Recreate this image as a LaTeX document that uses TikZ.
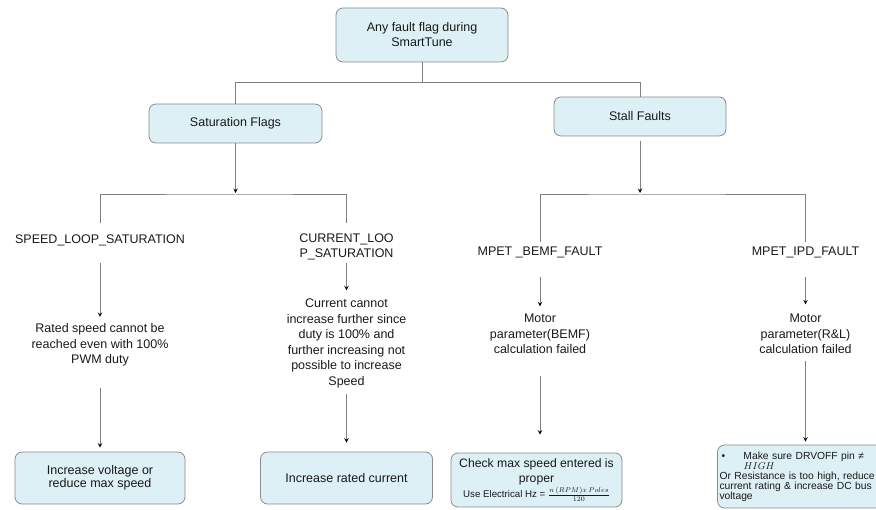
\documentclass[tikz,border=0pt]{standalone}
\usepackage{fontspec}
\setmainfont{Liberation Sans}
\usetikzlibrary{positioning}
\definecolor{boxfill}{HTML}{DCF0F5}
\definecolor{boxline}{HTML}{8C8C8C}
\definecolor{linkgray}{HTML}{808080}

\begin{document}
\begin{tikzpicture}[->,>=stealth, x=1pt, y=1pt, on grid,
  every node/.style={font=\fontsize{12.5}{15.5}\selectfont, text=black!90, inner sep=0pt},
  flagbox/.style={rectangle, rounded corners=7pt, draw=boxline, fill=boxfill, line width=0.8pt, minimum width=172pt, minimum height=39pt, align=center},
  flagtext/.style={align=center},
  link/.style={draw=linkgray, line width=1pt}]

  \useasboundingbox (0,0) rectangle (876,-510);

  \node[flagbox, minimum height=54pt, font=\fontsize{12.5}{15}\selectfont] (fault) at (422,-35) {Any fault flag during\\SmartTune};
  \node[flagbox, minimum width=173pt] (sat) [below left = 88.5pt and 186.5pt of fault] {Saturation Flags};
  \node[flagbox] (stall) [below right = 81.5pt and 218pt of fault] {Stall Faults};
  \coordinate[below = 71.5pt of sat] (satbar);
  \coordinate[below = 78.5pt of stall] (stallbar);

  \node[flagtext] (speed) [below left = 116.5pt and 135.5pt of sat] {SPEED\_LOOP\_SATURATION};
  \node[flagtext] (curloop) [below right = 123.5pt and 111pt of sat] {CURRENT\_LOO\\P\_SATURATION};
  \node[flagtext] (bemf) [below left = 135.5pt and 100pt of stall] {MPET \_BEMF\_FAULT};
  \node[flagtext] (ipd) [below right = 135.5pt and 165.5pt of stall] {MPET\_IPD\_FAULT};

  \node[flagtext] (rated) [below = 105pt of speed] {Rated speed cannot be\\reached even with 100\%\\PWM duty};
  \node[flagtext] (curdesc) [below = 96.5pt of curloop] {Current cannot\\increase further since\\duty is 100\% and\\further increasing not\\possible to increase\\Speed};
  \node[flagtext] (motorb) [below = 82pt of bemf] {Motor\\parameter(BEMF)\\calculation failed};
  \node[flagtext] (motorr) [below = 82pt of ipd] {Motor\\parameter(R\&L)\\calculation failed};

  \node[flagbox, minimum width=170pt, minimum height=52pt, font=\fontsize{12.5}{13.5}\selectfont] (volt) [below = 133pt of rated] {Increase voltage or\\reduce max speed};
  \node[flagbox, minimum height=52pt] (ratedcur) [below = 134.5pt of curdesc] {Increase rated current};
  \node[flagbox, minimum width=171pt, minimum height=54pt, font=\fontsize{12.2}{15}\selectfont] (check) [below left = 146pt and 3.5pt of motorb] {Check max speed entered is\\proper\\{\fontsize{9.7}{12}\selectfont Use Electrical Hz = $\frac{n\,(RPM)x\,Poles}{120}$}};
  \node[flagbox, minimum width=176pt, minimum height=63pt, text width=172pt, align=left, font=\fontsize{10.3}{10}\selectfont] (drvoff) [below = 142.5pt of motorr] {\hspace*{2pt}\makebox[22pt][l]{•}Make sure DRVOFF pin ≠\\\hspace*{24pt}$HIGH$\\Or Resistance is too high, reduce\\current rating \& increase DC bus\\voltage};

  % tree lines
  \draw[link, -] (fault.south) -- ++(0,-20) -| (sat.north);
  \draw[link, -] (fault.south) -- ++(0,-20) -| (stall.north);
  \draw[link, -] ([yshift=11pt]speed.north) |- (satbar) -| ([yshift=10.5pt]curloop.north);
  \draw[link, -] ([yshift=4pt]bemf.north) |- (stallbar) -| ([yshift=4pt]ipd.north);

  \path[link]
    (sat) edge[shorten >=2pt] (satbar)
    (stall) edge[shorten <=5pt, shorten >=2pt] (stallbar)
    (speed) edge[shorten <=17pt, shorten >=6.5pt] (rated)
    (curloop) edge[shorten <=2.5pt, shorten >=8.5pt] (curdesc)
    (bemf) edge[shorten <=19pt, shorten >=7.5pt] (motorb)
    (ipd) edge[shorten <=19pt, shorten >=9.5pt] (motorr)
    (rated) edge[shorten <=21.5pt, shorten >=4pt] (volt)
    (curdesc) edge[shorten <=5.5pt, shorten >=9pt] (ratedcur)
    (motorb) edge[shorten <=21.5pt, shorten >=18pt] (motorb |- check.north)
    (motorr) edge[shorten <=6.5pt, shorten >=3pt] (drvoff)
  ;
\end{tikzpicture}
\end{document}
